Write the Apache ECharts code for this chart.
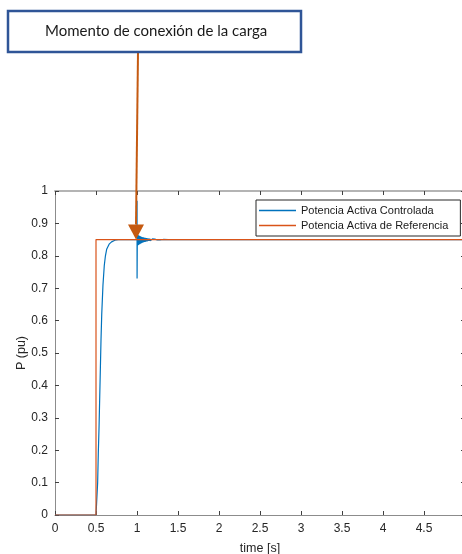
<!DOCTYPE html>
<html>
<head>
<meta charset="utf-8">
<script src="https://cdn.jsdelivr.net/npm/echarts@6/dist/echarts.min.js"></script>
<style>
html,body{margin:0;padding:0;background:#fff;}
#c{width:462px;height:554px;}
</style>
</head>
<body>
<div id="c"></div>
<script>
// ---- data ----
const xTicks = [0, 0.5, 1, 1.5, 2, 2.5, 3, 3.5, 4, 4.5, 5];
const yTicks = [0, 0.1, 0.2, 0.3, 0.4, 0.5, 0.6, 0.7, 0.8, 0.9, 1];
const seriesNames = ['Potencia Activa Controlada', 'Potencia Activa de Referencia'];

// Potencia activa de referencia (step)
const timeRef = [0, 0.5, 0.5, 5];
const pRef = [0, 0, 0.85, 0.85];

// Potencia activa controlada
const timeCtrl = [0, 0.5, 0.513, 0.52, 0.528, 0.537, 0.545, 0.553, 0.561, 0.57, 0.585, 0.601, 0.615, 0.63, 0.66, 0.69, 0.73, 0.77, 0.85, 1.0,
  1.0005, 1.001,
  1.004, 1.008, 1.012, 1.016, 1.020, 1.024, 1.028, 1.032, 1.036, 1.040, 1.044, 1.048, 1.052, 1.056, 1.060, 1.064, 1.068, 1.072, 1.076, 1.080,
  1.084, 1.088, 1.092, 1.096, 1.100, 1.104, 1.108, 1.112, 1.116, 1.120, 1.124, 1.128, 1.132, 1.136, 1.140, 1.144, 1.148, 1.152, 1.156, 1.160,
  1.164, 1.168, 1.172, 1.176, 1.180, 1.184, 1.188, 1.192, 1.196, 1.200,
  1.206, 1.212, 1.218, 1.224, 1.230, 1.236, 1.242, 1.248, 1.256, 1.264, 1.272, 1.280, 1.29, 1.30, 1.32, 1.34, 1.38, 5.0];
const pCtrl = [0, 0, 0, 0.10, 0.19, 0.27, 0.36, 0.45, 0.54, 0.62, 0.71, 0.77, 0.80, 0.82, 0.836, 0.843, 0.848, 0.850, 0.850, 0.850,
  0.970, 0.730,
  0.8653, 0.8317, 0.8640, 0.8333, 0.8628, 0.8347, 0.8617, 0.8360, 0.8607, 0.8372, 0.8598, 0.8383, 0.8590, 0.8393, 0.8582, 0.8402, 0.8575, 0.8410, 0.8569, 0.8418,
  0.8563, 0.8425, 0.8558, 0.8431, 0.8553, 0.8437, 0.8548, 0.8442, 0.8544, 0.8447, 0.8540, 0.8452, 0.8537, 0.8456, 0.8534, 0.8460, 0.8531, 0.8463, 0.8528, 0.8466,
  0.8526, 0.8469, 0.8524, 0.8472, 0.8522, 0.8474, 0.8520, 0.8476, 0.8518, 0.8478,
  0.8516, 0.8481, 0.8514, 0.8483, 0.8512, 0.8485, 0.8511, 0.8487, 0.8509, 0.8489, 0.8508, 0.8491, 0.8506, 0.8493, 0.8504, 0.8496, 0.8500, 0.8500];

const annotationText = 'Momento de conexión de la carga';
const arrowTarget = [1.0, 0.85];

// ---- chart ----
const zip = (a, b) => a.map((v, i) => [v, b[i]]);
const chart = echarts.init(document.getElementById('c'), null, {renderer: 'canvas'});
const FONT = 'Liberation Sans, Arial, sans-serif';
const tickCol = '#404040';
const lblCol = '#262626';

const axisCommon = {
  type: 'value',
  splitLine: {show: false},
  axisTick: {show: true, inside: true, length: 4, lineStyle: {color: tickCol, width: 1}},
};

chart.setOption({
  animation: false,
  backgroundColor: '#fff',
  grid: {left: 55, top: 191, width: 410, height: 324, containLabel: false, outerBoundsMode: 'none'},
  xAxis: [
    Object.assign({}, axisCommon, {
      min: xTicks[0], max: xTicks[xTicks.length - 1], interval: 0.5,
      position: 'bottom',
      axisLine: {show: true, onZero: false, lineStyle: {color: '#8c8c8c', width: 1}},
      axisLabel: {color: lblCol, fontSize: 12, fontFamily: FONT, margin: 8},
      name: 'time [s]', nameLocation: 'middle', nameGap: 27,
      nameTextStyle: {color: lblCol, fontSize: 12.5, fontFamily: FONT}
    }),
    Object.assign({}, axisCommon, {
      min: xTicks[0], max: xTicks[xTicks.length - 1], interval: 0.5,
      position: 'top',
      axisLine: {show: true, onZero: false, lineStyle: {color: '#b4b4b4', width: 2}},
      axisLabel: {show: false}
    })
  ],
  yAxis: [
    Object.assign({}, axisCommon, {
      min: yTicks[0], max: yTicks[yTicks.length - 1], interval: 0.1,
      position: 'left',
      axisLine: {show: true, onZero: false, lineStyle: {color: '#8c8c8c', width: 1}},
      axisLabel: {color: lblCol, fontSize: 12, fontFamily: FONT, margin: 7},
      name: 'P (pu)', nameLocation: 'middle', nameGap: 27, nameRotate: 90, nameMoveOverlap: false,
      nameTextStyle: {color: lblCol, fontSize: 12.5, fontFamily: FONT}
    }),
    Object.assign({}, axisCommon, {
      min: yTicks[0], max: yTicks[yTicks.length - 1], interval: 0.1,
      position: 'right',
      axisLine: {show: true, onZero: false, lineStyle: {color: '#8c8c8c', width: 1}},
      axisLabel: {show: false}
    })
  ],
  legend: {
    orient: 'vertical',
    left: 256, top: 200,
    padding: [4, 12, 4, 3],
    itemWidth: 37, itemHeight: 1.5, itemGap: 2,
    backgroundColor: '#fff',
    borderColor: '#262626', borderWidth: 1, borderRadius: 0,
    textStyle: {color: '#1a1a1a', fontSize: 11, fontFamily: FONT, lineHeight: 13},
    data: [
      {name: seriesNames[0], icon: 'rect', itemStyle: {color: '#0072BD'}},
      {name: seriesNames[1], icon: 'rect', itemStyle: {color: '#D95319'}}
    ]
  },
  series: [
    {
      name: seriesNames[0], type: 'line', showSymbol: false, symbol: 'none',
      data: zip(timeCtrl, pCtrl),
      lineStyle: {color: '#0072BD', width: 1.2},
      itemStyle: {color: '#0072BD'},
      z: 2
    },
    {
      name: seriesNames[1], type: 'line', showSymbol: false, symbol: 'none',
      data: zip(timeRef, pRef),
      lineStyle: {color: '#D95319', width: 1.2},
      itemStyle: {color: '#D95319'},
      z: 3
    }
  ]
});

// annotation: box + arrow pointing at the load connection moment
const tip = chart.convertToPixel({gridIndex: 0}, arrowTarget);
const boxL = 8, boxT = 11, boxW = 293, boxH = 41;
const headH = 15, headHalf = 8;
chart.setOption({
  graphic: [
    {
      type: 'line', z: 100,
      shape: {x1: tip[0] + 1, y1: boxT + boxH, x2: tip[0] - 1, y2: tip[1] - headH},
      style: {stroke: '#C55A11', lineWidth: 2}
    },
    {
      type: 'polygon', z: 101,
      shape: {points: [[tip[0] - 1 - headHalf, tip[1] - headH], [tip[0] - 1 + headHalf, tip[1] - headH], [tip[0] - 1, tip[1]]]},
      style: {fill: '#C55A11'}
    },
    {
      type: 'rect', z: 102,
      shape: {x: boxL, y: boxT, width: boxW, height: boxH},
      style: {fill: '#fff', stroke: '#2F5597', lineWidth: 2.5}
    },
    {
      type: 'text', z: 103,
      x: 45, y: boxT + boxH / 2,
      style: {text: annotationText, fill: '#1a1a1a', font: '15px Lato, "Open Sans", sans-serif', verticalAlign: 'middle', align: 'left'}
    }
  ]
});
</script>
</body>
</html>
